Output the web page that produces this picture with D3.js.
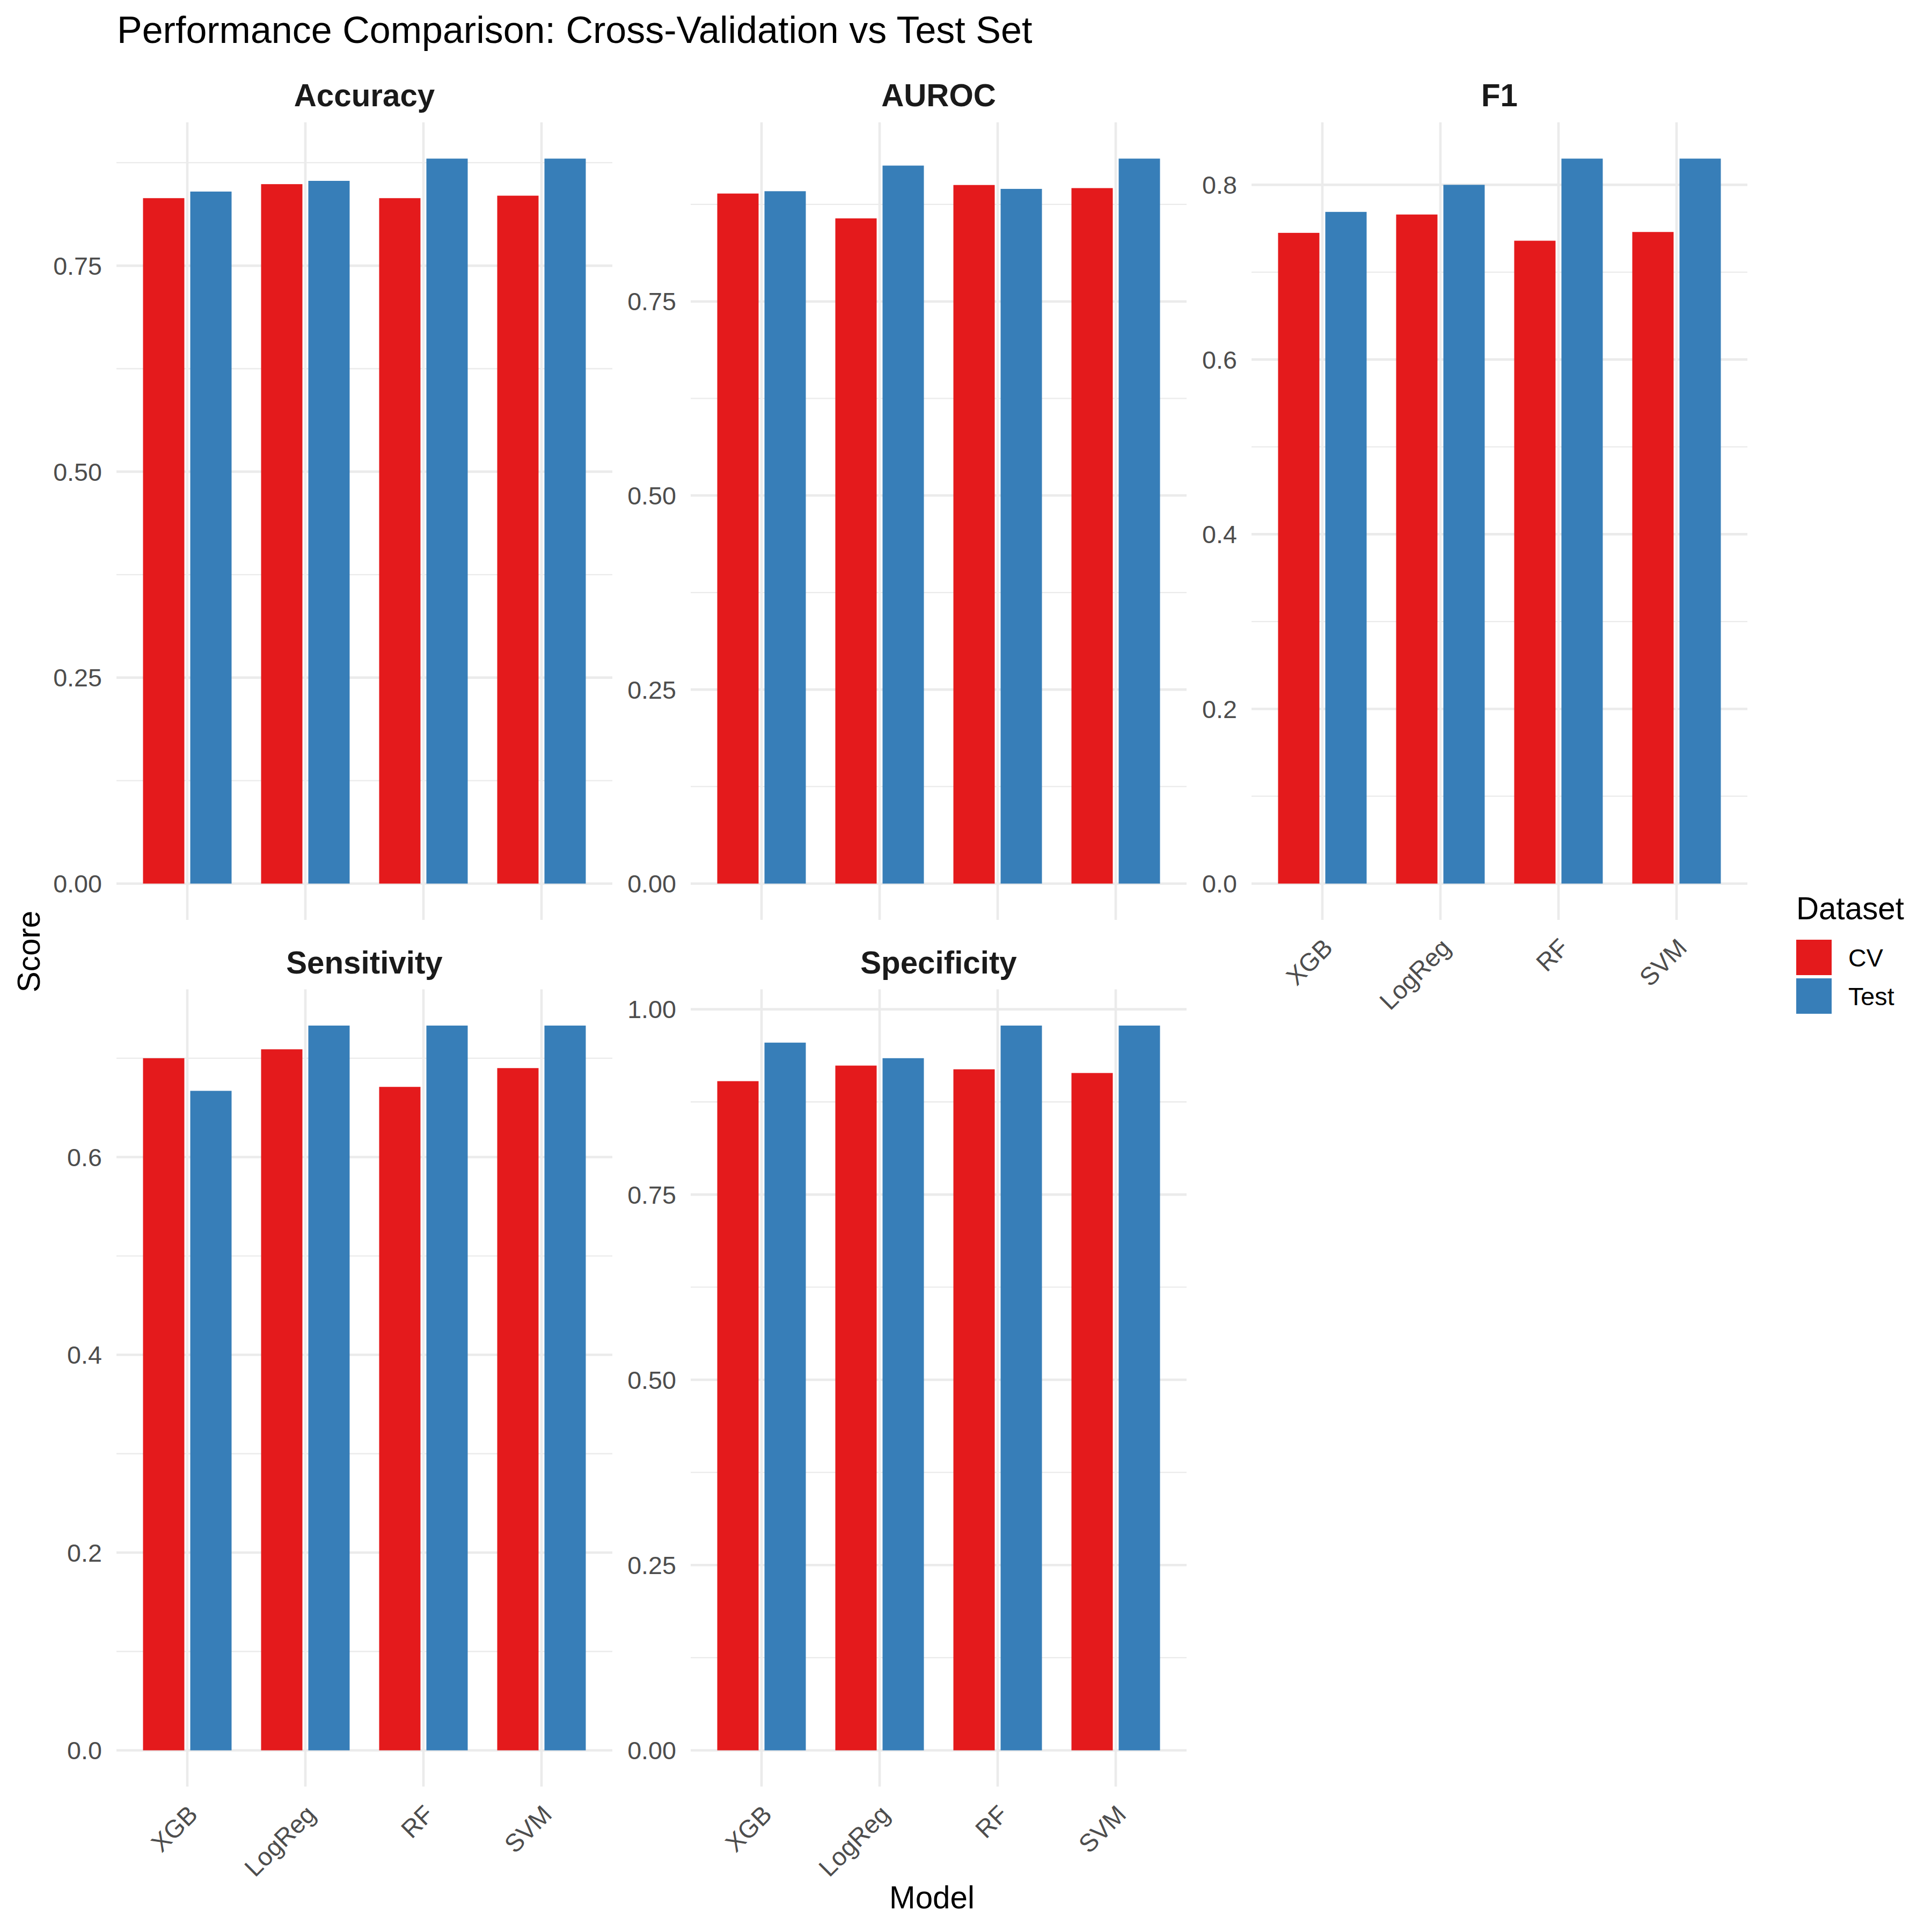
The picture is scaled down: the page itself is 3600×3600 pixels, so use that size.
<!DOCTYPE html>
<html>
<head>
<meta charset="utf-8">
<script src="https://cdn.jsdelivr.net/npm/d3@7"></script>
<style>
  html, body { margin: 0; padding: 0; background: #ffffff; }
  svg text { font-family: "Liberation Sans", Arial, Helvetica, sans-serif; }
</style>
</head>
<body>
<svg id="chart" width="3600" height="3600"></svg>
<script>
// ---- data ----
const models = ["XGB", "LogReg", "RF", "SVM"];
const datasets = ["CV", "Test"];
const metrics = ["Accuracy", "AUROC", "F1", "Sensitivity", "Specificity"];

const accuracyCV   = [0.832, 0.849, 0.832, 0.835];
const accuracyTest = [0.840, 0.853, 0.880, 0.880];
const aurocCV      = [0.889, 0.857, 0.900, 0.896];
const aurocTest    = [0.892, 0.925, 0.895, 0.934];
const f1CV         = [0.745, 0.766, 0.736, 0.746];
const f1Test       = [0.769, 0.800, 0.830, 0.830];
const sensCV       = [0.700, 0.709, 0.671, 0.690];
const sensTest     = [0.667, 0.733, 0.733, 0.733];
const specCV       = [0.903, 0.924, 0.919, 0.914];
const specTest     = [0.955, 0.934, 0.978, 0.978];

const accuracyTicks = [0, 0.25, 0.5, 0.75];
const aurocTicks    = [0, 0.25, 0.5, 0.75];
const f1Ticks       = [0, 0.2, 0.4, 0.6, 0.8];
const sensTicks     = [0, 0.2, 0.4, 0.6];
const specTicks     = [0, 0.25, 0.5, 0.75, 1.0];
const accuracyTickLabels = ["0.00", "0.25", "0.50", "0.75"];
const aurocTickLabels    = ["0.00", "0.25", "0.50", "0.75"];
const f1TickLabels       = ["0.0", "0.2", "0.4", "0.6", "0.8"];
const sensTickLabels     = ["0.0", "0.2", "0.4", "0.6"];
const specTickLabels     = ["0.00", "0.25", "0.50", "0.75", "1.00"];

const colors = { CV: "#E41A1C", Test: "#377EB8" };

// ---- layout ----
const svg = d3.select("#chart");
const colX = [[217, 1141], [1287, 2211], [2332, 3256]];
const rowY = [[228, 1714], [1843.5, 3329]];

const panels = [
  { name: metrics[0], cv: accuracyCV, test: accuracyTest, ticks: accuracyTicks, labels: accuracyTickLabels, col: 0, row: 0, xlab: false },
  { name: metrics[1], cv: aurocCV, test: aurocTest, ticks: aurocTicks, labels: aurocTickLabels, col: 1, row: 0, xlab: false },
  { name: metrics[2], cv: f1CV, test: f1Test, ticks: f1Ticks, labels: f1TickLabels, col: 2, row: 0, xlab: true },
  { name: metrics[3], cv: sensCV, test: sensTest, ticks: sensTicks, labels: sensTickLabels, col: 0, row: 1, xlab: true },
  { name: metrics[4], cv: specCV, test: specTest, ticks: specTicks, labels: specTickLabels, col: 1, row: 1, xlab: true }
];

const gridColor = "#EBEBEB";

panels.forEach(p => {
  const [x0, x1] = colX[p.col];
  const [y0, y1] = rowY[p.row];
  const maxV = d3.max(p.cv.concat(p.test));
  const y = d3.scaleLinear().domain([-0.05 * maxV, 1.05 * maxV]).range([y1, y0]);
  const x = d3.scalePoint().domain(models).range([x0, x1]).padding(0.6);
  const step = x.step();
  const g = svg.append("g");

  // minor gridlines
  const minors = [];
  for (let i = 0; i < p.ticks.length; i++) {
    const d = p.ticks.length > 1 ? p.ticks[1] - p.ticks[0] : 0.25;
    const m = p.ticks[i] + d / 2;
    if (m <= y.domain()[1]) minors.push(m);
  }
  g.selectAll(".minor").data(minors).enter().append("line")
    .attr("x1", x0).attr("x2", x1)
    .attr("y1", d => y(d)).attr("y2", d => y(d))
    .attr("stroke", gridColor).attr("stroke-width", 2.3);
  // major horizontal
  g.selectAll(".major").data(p.ticks).enter().append("line")
    .attr("x1", x0).attr("x2", x1)
    .attr("y1", d => y(d)).attr("y2", d => y(d))
    .attr("stroke", gridColor).attr("stroke-width", 4.6);
  // vertical major
  g.selectAll(".vmajor").data(models).enter().append("line")
    .attr("x1", d => x(d)).attr("x2", d => x(d))
    .attr("y1", y0).attr("y2", y1)
    .attr("stroke", gridColor).attr("stroke-width", 4.6);

  // bars
  const barData = [];
  models.forEach((m, i) => {
    barData.push({ model: m, ds: "CV", v: p.cv[i] });
    barData.push({ model: m, ds: "Test", v: p.test[i] });
  });
  const xs = d3.scaleBand().domain(datasets).range([-0.4 * step, 0.4 * step]);
  g.selectAll(".bar").data(barData).enter().append("rect")
    .attr("x", d => x(d.model) + xs(d.ds) + (xs.bandwidth() - 0.35 * step) / 2)
    .attr("width", 0.35 * step)
    .attr("y", d => y(d.v))
    .attr("height", d => y(0) - y(d.v))
    .attr("fill", d => colors[d.ds]);

  // y tick labels
  g.selectAll(".ytl").data(p.ticks).enter().append("text")
    .attr("x", x0 - 27)
    .attr("y", d => y(d))
    .attr("dy", "0.36em")
    .attr("text-anchor", "end")
    .attr("font-size", 46.7)
    .attr("fill", "#4D4D4D")
    .text((d, i) => p.labels[i]);

  // x tick labels
  if (p.xlab) {
    g.selectAll(".xtl").data(models).enter().append("text")
      .attr("transform", d => `translate(${x(d)},${y1 + 33}) rotate(-45)`)
      .attr("dy", 31)
      .attr("text-anchor", "end")
      .attr("font-size", 46.7)
      .attr("fill", "#4D4D4D")
      .text(d => d);
  }

  // strip
  g.append("text")
    .attr("x", (x0 + x1) / 2)
    .attr("y", y0 - 30)
    .attr("text-anchor", "middle")
    .attr("font-size", 58.3)
    .attr("font-weight", "bold")
    .attr("fill", "#1A1A1A")
    .text(p.name);
});

// title
svg.append("text")
  .attr("x", 218).attr("y", 80)
  .attr("font-size", 70)
  .attr("fill", "#000000")
  .text("Performance Comparison: Cross-Validation vs Test Set");

// axis titles
svg.append("text")
  .attr("x", 1736.5).attr("y", 3556)
  .attr("text-anchor", "middle")
  .attr("font-size", 58.3)
  .attr("fill", "#000000")
  .text("Model");

svg.append("text")
  .attr("transform", "translate(74,1773) rotate(-90)")
  .attr("text-anchor", "middle")
  .attr("font-size", 58.3)
  .attr("fill", "#000000")
  .text("Score");

// legend
const lg = svg.append("g");
lg.append("text")
  .attr("x", 3347).attr("y", 1713)
  .attr("font-size", 58.3)
  .attr("fill", "#000000")
  .text("Dataset");
const keyY = d3.scaleBand().domain(datasets).range([1748, 1892]);
lg.selectAll(".key").data(datasets).enter().append("rect")
  .attr("x", 3347)
  .attr("y", d => keyY(d) + 3)
  .attr("width", 66)
  .attr("height", keyY.bandwidth() - 6)
  .attr("fill", d => colors[d]);
lg.selectAll(".klab").data(datasets).enter().append("text")
  .attr("x", 3444)
  .attr("y", d => keyY(d) + keyY.bandwidth() / 2)
  .attr("dy", "0.36em")
  .attr("font-size", 46.7)
  .attr("fill", "#000000")
  .text(d => d);
</script>
</body>
</html>
